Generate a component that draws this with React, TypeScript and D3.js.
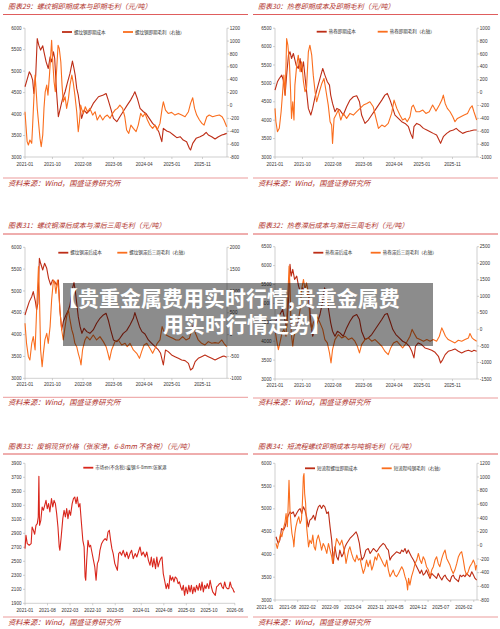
import React from 'react';
import * as d3 from 'd3';

// ---------- colours / fonts ----------
const C_DARK = '#BD2D16';
const C_ORANGE = '#FA6E1E';
const C_TITLE = '#B0302A';
const C_RULE = '#DB4B4B';
const C_AXIS = '#B0B0B0';
const C_TICKTXT = '#333333';
const FONT_CJK = '"Noto Sans CJK SC", "Noto Sans", sans-serif';
const FONT_NUM = '"Liberation Sans", Arial, sans-serif';

// ---------- tick labels ----------
const xTicksA = ['2021-01', '2021-10', '2022-08', '2023-06', '2024-04', '2025-01', '2025-11'];
const xTicksB = ['2021-01', '2021-08', '2022-03', '2022-10', '2023-05', '2024-01', '2024-08', '2025-03', '2025-10', '2026-06'];
const xTicksC = ['2021-01', '2021-08', '2022-02', '2022-09', '2023-04', '2023-11', '2024-05', '2024-12', '2025-07', '2026-02'];

// ---------- data (m = months since 2021-01, v = value) ----------
// 图表29
const p29CostM = [0,0.8,1.4,2.0,2.5,2.9,3.5,4.0,4.5,5.1,5.8,6.2,6.9,7.6,8.2,8.7,9.3,9.7,10.3,10.9,11.4,12.3,13.1,13.8,14.7,15.5,16.0,16.4,16.9,17.4,18.0,18.5,19.3,20.2,21.2,22.3,24.0,25.6,26.5,27.2,28.0,28.9,30.0,31.0,32.4,33.4,34.5,35.4,35.9,36.7,37.6,38.7,39.5,40.6,41.7,42.8,43.7,44.7,45.2,46.3,47.4,48.5,49.6,50.7,51.7,52.8,53.7,54.1,54.8,55.9,57.2,58.3,59.2,59.9,61.0,62.1,63.2,64.3,65.0,65.9];
const p29CostV = [4636,4830,4985,4907,4790,4480,4900,5760,5605,5490,5590,5450,5217,5062,5333,5217,5450,5295,4520,3938,4093,4364,4520,4713,4946,5233,5062,4907,4597,4442,4132,3900,4093,4015,4093,4248,4403,4442,4480,4325,4132,3900,3822,3938,4093,4209,4325,4442,4520,4364,4132,4054,4015,3900,3783,3705,3589,3357,3667,3605,3574,3512,3450,3473,3395,3357,3202,3163,3318,3434,3473,3512,3574,3512,3473,3419,3473,3512,3527,3550];
const p29MarginM = [0,0.3,0.7,1.1,1.6,2.2,2.5,2.9,3.3,3.6,4.0,4.5,4.9,5.3,5.8,6.2,6.6,7.1,7.5,8.0,8.4,8.7,9.0,9.5,9.9,10.3,10.8,11.2,11.7,12.1,12.5,13.1,13.6,14.2,14.7,15.3,15.8,16.3,16.9,17.4,17.8,18.2,18.6,19.1,19.7,20.4,21.2,22.1,22.9,23.6,24.5,25.4,26.1,26.9,27.8,28.6,29.4,30.2,31.0,31.9,32.6,33.2,33.9,34.6,35.4,36.3,37.0,37.8,38.5,39.2,40.0,40.8,41.7,42.5,43.2,44.1,44.8,45.2,45.9,46.8,47.9,49.0,50.1,51.2,52.3,53.4,54.1,54.8,55.4,56.1,57.0,57.8,58.5,59.4,60.2,61.3,62.4,63.5,64.4,65.0,65.9];
const p29MarginV = [-97,-304,-562,-614,-536,-588,-304,110,471,265,-45,-304,-511,-640,-459,-45,213,316,161,471,781,1014,730,368,213,523,936,885,678,316,58,135,-45,110,316,471,342,161,-97,-407,-252,6,-71,-123,-20,-97,-45,-149,-97,-226,-149,-226,-175,-149,-200,-123,-71,-45,6,-45,-175,-381,-433,-304,-356,-407,-304,-123,-175,-123,-226,-304,-356,-304,-381,-278,-45,58,-71,-123,-107,-149,-123,-149,-175,-97,32,120,-45,-149,-226,-278,-304,-175,-149,-175,-159,-149,-175,-226,-330];

// 图表30
const p30CostM = [0,0.8,1.4,2.2,2.7,3.3,3.8,4.4,4.9,5.4,6.0,6.9,7.6,8.2,8.7,9.3,10.1,10.9,11.7,12.3,13.1,13.8,14.7,15.6,16.3,17.1,17.8,18.2,18.8,19.6,20.2,21.2,22.3,23.4,24.5,25.6,26.7,27.6,28.3,29.4,30.5,31.6,32.7,33.8,34.9,35.9,36.7,37.6,38.5,39.2,40.3,41.4,42.5,43.6,44.3,45.0,45.4,46.3,47.4,48.5,49.6,50.7,51.7,52.8,53.6,54.1,55.0,56.1,57.2,58.3,59.2,60.2,61.3,62.6,63.7,65.0,65.9];
const p30CostV = [4818,5044,5134,5225,5089,4682,5225,5767,5858,5677,5813,5496,5406,5677,5315,5587,4953,4320,4140,4320,4637,4863,5134,5406,5225,5044,4953,4682,4456,4230,4320,4275,4140,4365,4546,4637,4664,4501,4140,3913,4004,4140,4275,4411,4546,4682,4727,4546,4320,4140,4049,3959,3913,3823,3642,3506,3823,3913,3868,3778,3733,3687,3642,3597,3461,3371,3552,3642,3705,3733,3778,3705,3642,3687,3705,3733,3733];
const p30MarginM = [0,0.3,0.8,1.4,2.0,2.5,2.9,3.3,3.6,3.8,4.2,4.7,5.1,5.4,5.8,6.2,6.5,7.1,7.6,8.2,8.7,9.3,9.8,10.3,10.9,11.4,12.0,12.5,13.1,13.6,14.5,15.3,16.0,16.7,17.4,18.0,18.5,18.8,19.3,19.9,20.7,21.5,22.3,23.4,24.5,25.6,26.7,27.8,28.9,30.0,31.0,32.1,33.0,33.8,34.9,35.9,37.0,38.1,38.9,39.8,40.8,41.7,42.5,43.2,44.1,44.7,45.2,46.1,47.2,48.3,49.3,50.4,51.5,52.6,53.7,54.5,55.0,55.6,56.3,57.2,58.1,58.8,59.6,60.7,61.8,62.9,63.7,64.4,65.0,65.9];
const p30MarginV = [-245,-452,-607,-555,-297,13,271,-39,426,840,736,478,13,-401,-142,-426,116,426,581,323,478,168,13,65,633,736,581,271,13,-142,13,142,220,13,-194,-452,-504,-788,-401,-349,-271,-426,-323,-401,-323,-349,-297,-245,-194,-168,-142,-220,-401,-555,-504,-530,-478,-323,-116,-245,-349,-426,-401,-452,-375,-220,-194,-297,-297,-271,-323,-297,-194,-287,-194,-116,-39,-168,-245,-297,-375,-452,-401,-375,-349,-323,-245,-204,-297,-426];

// 图表31
const p31CostM = [0,0.5,1.4,2.2,2.7,3.4,3.8,4.2,4.7,5.1,5.8,6.4,7.1,7.7,8.4,9.0,9.7,10.3,10.9,11.4,12.0,12.5,13.4,14.2,14.7,15.4,16.0,16.4,16.9,17.4,18.0,18.6,19.3,20.2,21.2,22.3,23.4,24.5,25.6,26.5,27.2,28.0,28.9,30.0,31.0,32.1,33.2,34.3,35.4,35.9,36.5,37.4,38.2,39.2,40.3,41.4,42.5,43.6,44.3,45.2,45.9,46.8,47.9,49.0,50.1,51.2,52.3,53.4,54.1,54.8,55.6,56.6,57.7,58.8,59.9,61.0,62.1,63.2,64.3,65.0,65.9];
const p31CostV = [4450,4565,4756,4870,4985,4756,4565,4717,5748,5634,5481,5634,5519,5290,5137,5252,5214,5137,5252,4565,4107,4298,4450,4565,4679,5023,5191,5023,4717,4412,4183,4030,4145,4069,4030,4107,4260,4374,4450,4488,4336,4107,3878,3840,3916,4030,4092,4221,4374,4504,4374,4183,4069,4015,3878,3801,3725,3649,3572,3305,3649,3611,3534,3496,3458,3420,3404,3343,3191,3229,3382,3458,3496,3534,3496,3458,3420,3458,3496,3511,3481];
const p31MarginM = [0,0.5,1.1,1.6,2.2,2.7,3.3,3.8,4.4,4.7,5.1,5.6,6.0,6.5,7.1,7.6,8.2,8.7,9.3,9.7,10.1,10.6,11.0,11.4,12.0,12.5,13.1,13.6,14.2,14.7,15.3,15.8,16.3,16.9,17.4,18.0,18.3,18.8,19.6,20.2,21.2,22.3,23.4,24.5,25.6,26.5,27.1,27.6,28.3,29.4,30.5,31.6,32.7,33.4,34.3,35.4,36.5,37.4,38.1,38.9,39.8,40.8,41.7,42.5,43.2,44.1,44.8,45.2,46.1,47.2,48.3,49.3,50.4,51.5,52.6,53.7,54.5,55.0,55.7,56.6,57.7,58.8,59.9,61.0,62.1,63.2,64.3,65.0,65.9];
const p31MarginV = [260,-199,-504,-580,-199,-46,-351,565,1557,946,-351,-733,-428,-122,31,-199,183,794,1252,1176,946,1252,1023,565,107,-122,183,412,565,336,107,-8,-199,-275,-428,-580,-695,-351,-122,-46,-122,-8,-122,-46,-160,-275,-428,-580,-351,-160,-122,-237,-199,-275,-199,-351,-428,-542,-389,-237,-199,-313,-428,-313,-199,-122,183,107,-8,-46,-84,-122,-122,-46,-122,-84,107,221,31,-122,-199,-237,-160,-199,-183,-199,-122,-199,-275];

// 图表32
const p32CostM = [0,0.8,1.6,2.5,3.2,3.8,4.5,4.9,5.3,5.8,6.4,7.1,7.7,8.4,9.0,9.7,10.3,11.0,11.7,12.3,13.0,13.8,14.7,15.6,16.2,16.9,17.5,18.2,18.8,19.6,20.4,21.2,22.3,23.4,24.5,25.6,26.7,27.6,28.3,29.4,30.5,31.6,32.7,33.8,34.9,35.9,36.7,37.6,38.5,39.5,40.6,41.7,42.8,43.9,44.7,45.4,45.9,46.8,47.9,49.0,50.1,51.2,52.3,53.4,54.1,54.8,55.6,56.6,57.7,58.8,59.9,61.0,62.1,63.2,64.3,65.0,65.9];
const p32CostV = [4485,4617,4706,4838,4573,4352,5192,6032,5722,5899,5634,5722,5457,5280,5413,5325,5192,5280,4485,4131,4308,4485,4706,5059,5413,5192,4838,4485,4264,4131,4264,4220,4131,4352,4529,4662,4706,4573,4264,4043,4087,4176,4308,4441,4573,4706,4732,4529,4308,4176,4087,3999,3955,3866,3734,3557,3866,3955,3910,3822,3796,3760,3707,3601,3424,3513,3645,3734,3760,3796,3734,3690,3734,3760,3725,3760,3734];
const p32MarginM = [0,0.5,1.1,1.6,2.3,2.9,3.6,4.1,4.6,4.9,5.3,5.8,6.2,6.9,7.5,8.2,8.7,9.3,9.8,10.3,10.9,11.4,12.0,12.5,13.6,14.7,15.6,16.3,17.1,17.8,18.3,18.8,19.6,20.7,21.8,22.9,24.0,25.1,26.1,26.9,27.6,28.3,29.4,30.5,31.6,32.7,33.8,34.9,35.9,37.0,37.8,38.7,39.8,40.8,41.7,42.5,43.2,44.1,44.8,45.4,46.3,47.4,48.5,49.6,50.7,51.7,52.8,53.7,54.5,55.0,55.7,56.6,57.7,58.8,59.9,61.0,62.1,63.2,63.7,64.4,65.0,65.9];
const p32MarginV = [0,-308,-611,-409,-106,0,-207,803,1914,1308,-106,-510,-207,0,197,601,1207,1510,1207,1409,1106,298,0,197,399,197,0,-308,-409,-712,-1015,-611,-308,-156,-257,-207,-308,-257,-358,-510,-712,-459,-308,-257,-358,-308,-409,-510,-661,-762,-560,-409,-358,-459,-560,-459,-358,-207,0,-106,-257,-308,-358,-308,-358,-308,-358,-207,46,-55,-207,-308,-358,-409,-328,-358,-308,-257,-126,-257,-308,-358];

// 图表33
const p33PriceM = [0,0.3,0.7,1.3,1.9,2.2,2.6,3.0,3.4,3.8,4.1,4.3,4.5,4.9,5.3,5.7,6.1,6.5,6.9,7.3,7.7,8.2,8.6,9.0,9.4,9.8,10.2,10.6,10.8,11.2,11.7,12.1,12.5,12.9,13.3,13.7,14.1,14.6,15.0,15.4,15.8,16.2,16.6,17.0,17.4,17.9,18.3,18.6,18.8,19.1,19.5,19.9,20.3,20.7,21.2,21.6,22.0,22.4,22.8,23.2,23.7,24.3,24.8,25.3,25.7,26.1,26.5,26.9,27.3,27.8,28.2,28.6,29.0,29.4,29.9,30.4,31.0,31.5,32.0,32.5,33.0,33.5,34.1,34.6,35.1,35.6,36.1,36.6,37.2,37.7,38.2,38.7,39.1,39.5,39.9,40.4,40.8,41.2,41.6,42.0,42.4,42.8,43.2,43.7,44.1,44.5,44.9,45.3,45.7,46.1,46.5,47.0,47.4,47.8,48.2,48.6,49.0,49.4,49.8,50.3,50.7,51.1,51.5,51.9,52.3,52.7,53.1,53.6,54.0,54.4,54.8,55.2,55.6,56.0,56.4,56.9,57.3,57.7,58.1,58.5,58.9,59.3,59.8,60.2,60.6,61.0,61.4,61.8,62.2,62.6,63.1,63.5,63.9,64.3,64.7,65.0];
const p33PriceV = [2681,2871,2752,2729,2752,2990,2943,2886,3014,3038,3133,3714,3014,3086,3276,3229,3300,3371,3252,3324,3205,3395,3276,3371,3324,3181,2990,2705,2657,2848,3110,3229,3133,3252,3110,3229,3157,3324,3395,3419,3324,3419,3276,3324,3086,2800,2705,2276,2229,2514,2800,2705,2729,2633,2514,2419,2229,2467,2514,2657,2752,2800,2824,2800,2919,2943,2800,2681,2610,2467,2419,2371,2610,2633,2586,2657,2562,2633,2538,2610,2657,2538,2610,2562,2633,2705,2586,2633,2562,2633,2514,2443,2562,2419,2538,2395,2562,2419,2491,2538,2562,2324,2229,2110,2181,2110,2300,2229,2276,2205,2276,2252,2181,2205,2133,2086,2157,2014,2133,2038,2157,2062,2157,2038,2133,2062,2157,2086,2181,2086,2205,2062,2157,2110,2181,2110,2229,2133,2062,2038,2014,2133,2157,2181,2190,2133,2110,2205,2133,2110,2110,2205,2133,2110,2062,2062];

// 图表34
const p34CostM = [0.3,1.0,1.5,2.0,2.6,3.1,3.6,4.1,4.6,5.1,5.6,6.1,6.6,7.2,7.7,8.2,8.7,9.2,9.7,10.2,10.7,11.3,11.8,12.3,12.8,13.3,13.8,14.3,14.8,15.3,15.9,16.4,16.9,17.4,17.7,17.9,18.4,18.9,19.4,19.9,20.5,21.0,21.5,22.0,23.0,24.0,24.9,25.3,25.9,26.3,26.7,27.3,27.9,28.6,29.2,30.2,31.2,32.2,33.2,33.8,34.3,34.8,35.3,35.8,36.3,37.3,38.4,38.9,39.4,39.9,40.4,40.9,41.4,41.9,42.5,43.0,43.5,44.0,44.5,45.0,45.5,46.0,46.5,47.1,47.6,48.1,48.6,49.1,49.6,50.1,50.6,51.2,51.7,52.2,52.7,53.2,53.7,54.2,54.7,55.2,55.8,56.3,56.8,57.3,57.8,58.3,58.8,59.3,59.8,60.4,60.9,61.4,61.9];
const p34CostV = [4387,4241,4314,4569,4533,4606,4752,4861,4934,4898,4934,4825,4898,4971,5007,4898,5044,4971,4825,4606,4752,4788,4861,4752,4934,5044,5080,5007,5080,5044,4898,4934,4606,4314,4022,3803,4168,3949,3876,4095,3949,4022,4168,4241,4350,4423,4496,4423,4241,4022,3876,3949,4095,4131,4022,4131,4058,4168,4241,4204,4131,4095,3876,3949,3985,4058,4022,4095,4058,4131,4022,4095,4022,3949,3876,3803,3730,3657,3584,3657,3547,3584,3657,3547,3474,3584,3547,3511,3474,3584,3511,3438,3511,3547,3474,3438,3401,3511,3547,3474,3438,3401,3547,3511,3547,3511,3584,3547,3511,3620,3547,3474,3438];
const p34MarginM = [0.3,0.7,1.3,1.7,2.1,2.6,3.1,3.4,3.8,4.1,4.3,4.6,4.9,5.2,5.6,5.8,6.1,6.4,6.9,7.3,7.7,8.1,8.4,8.7,8.9,9.1,9.4,9.7,10.0,10.3,10.7,11.2,11.6,12.0,12.4,12.8,13.3,13.8,14.3,14.8,15.3,15.9,16.4,16.9,17.4,17.7,18.1,18.5,18.9,19.4,19.9,20.5,21.0,21.5,21.8,22.2,22.6,23.0,23.5,24.0,24.6,25.1,25.6,26.1,26.6,27.1,27.6,28.1,28.6,29.2,29.7,30.2,30.7,31.2,31.7,32.2,32.7,33.2,33.8,34.3,34.8,35.3,35.8,36.3,36.8,37.3,37.9,38.4,38.9,39.4,39.9,40.4,40.7,41.0,41.4,41.9,42.5,43.0,43.5,44.0,44.5,45.0,45.5,46.0,46.5,47.1,47.6,48.1,48.6,49.1,49.6,50.1,50.6,51.2,51.7,52.2,52.7,53.2,53.7,54.2,54.7,55.2,55.8,56.3,56.8,57.3,57.8,58.3,58.8,59.3,59.8,60.4,60.9,61.3,61.6,61.9];
const p34MarginV = [27,-46,76,173,125,246,344,465,271,660,952,514,319,173,76,-22,173,271,368,417,319,368,611,1000,1049,757,611,271,125,-22,76,27,149,-22,-70,76,149,52,-70,27,-22,-119,27,-70,-167,-265,-119,-22,100,52,3,76,-22,-143,-265,-167,-70,-22,-119,-192,-240,-143,-216,-192,-313,-411,-338,-216,-313,-216,-362,-289,-167,-216,-119,-167,-216,-265,-313,-216,-362,-459,-411,-362,-435,-459,-411,-362,-313,-362,-459,-532,-654,-484,-581,-459,-362,-265,-216,-119,-216,-265,-167,-216,-313,-362,-459,-362,-313,-216,-167,-265,-313,-192,-119,-70,-192,-240,-289,-362,-411,-362,-265,-167,-119,-94,-216,-362,-435,-386,-313,-265,-216,-265,-362,-289];

// ---------- helpers ----------
const START = new Date(2021, 0, 1);
const toDate = (m: number) => new Date(START.getTime() + m * 30.4375 * 864e5);
const parseYM = (s: string) => {
  const [y, mo] = s.split('-').map(Number);
  return new Date(y, mo - 1, 1);
};

type Series = { m: number[]; v: number[]; color: string; right: boolean };
type Legend = { text: string; color: string; x: number };
type Cfg = {
  ox: number; title: string; titleY: number; ruleY: number;
  top: number; bottom: number; left: number; right: number;
  months: number; xTicks: string[]; xLabelY: number; xLabelDx: number;
  lDomain: [number, number]; lStep: number;
  rDomain?: [number, number]; rStep?: number;
  legend: Legend[]; legendY: number; srcRuleY: number; srcY: number;
  series: Series[];
};

const panels: Cfg[] = [
  {
    ox: 0, title: '图表29：螺纹钢即期成本与即期毛利（元/吨）', titleY: 8.6, ruleY: 14.5,
    top: 28.2, bottom: 157, left: 25, right: 227, months: 66, xTicks: xTicksA, xLabelY: 165.6, xLabelDx: 0,
    lDomain: [3000, 6000], lStep: 500, rDomain: [-800, 1200], rStep: 200,
    legend: [{ text: '螺纹钢即期成本', color: C_DARK, x: 62 }, { text: '螺纹钢即期毛利（右轴）', color: C_ORANGE, x: 123 }],
    legendY: 32, srcRuleY: 178, srcY: 185.7,
    series: [
      { m: p29CostM, v: p29CostV, color: C_DARK, right: false },
      { m: p29MarginM, v: p29MarginV, color: C_ORANGE, right: true },
    ],
  },
  {
    ox: 250, title: '图表30：热卷即期成本及即期毛利（元/吨）', titleY: 8.6, ruleY: 14.5,
    top: 28.2, bottom: 157, left: 275, right: 477, months: 66, xTicks: xTicksA, xLabelY: 165.6, xLabelDx: 0,
    lDomain: [3000, 6500], lStep: 500, rDomain: [-1000, 1000], rStep: 200,
    legend: [{ text: '热卷即期成本', color: C_DARK, x: 316.7 }, { text: '热卷即期毛利（右轴）', color: C_ORANGE, x: 377.7 }],
    legendY: 31.7, srcRuleY: 178, srcY: 185.7,
    series: [
      { m: p30CostM, v: p30CostV, color: C_DARK, right: false },
      { m: p30MarginM, v: p30MarginV, color: C_ORANGE, right: true },
    ],
  },
  {
    ox: 0, title: '图表31：螺纹钢滞后成本与滞后三周毛利（元/吨）', titleY: 227.5, ruleY: 234,
    top: 247.3, bottom: 378.3, left: 25, right: 227, months: 66, xTicks: xTicksA, xLabelY: 386, xLabelDx: 0,
    lDomain: [3000, 6000], lStep: 500, rDomain: [-1000, 2000], rStep: 500,
    legend: [{ text: '螺纹钢滞后成本', color: C_DARK, x: 58.3 }, { text: '螺纹钢滞后三周毛利（右轴）', color: C_ORANGE, x: 117.3 }],
    legendY: 252.7, srcRuleY: 397.3, srcY: 405.2,
    series: [
      { m: p31CostM, v: p31CostV, color: C_DARK, right: false },
      { m: p31MarginM, v: p31MarginV, color: C_ORANGE, right: true },
    ],
  },
  {
    ox: 250, title: '图表32：热卷滞后成本与滞后三周毛利（元/吨）', titleY: 227.5, ruleY: 234,
    top: 246.7, bottom: 379, left: 275, right: 477, months: 66, xTicks: xTicksA, xLabelY: 386.6, xLabelDx: 0,
    lDomain: [3000, 6500], lStep: 500, rDomain: [-1500, 2500], rStep: 500,
    legend: [{ text: '热卷滞后成本', color: C_DARK, x: 313.3 }, { text: '热卷滞后三周毛利（右轴）', color: C_ORANGE, x: 370.7 }],
    legendY: 252.7, srcRuleY: 398, srcY: 405.2,
    series: [
      { m: p32CostM, v: p32CostV, color: C_DARK, right: false },
      { m: p32MarginM, v: p32MarginV, color: C_ORANGE, right: true },
    ],
  },
  {
    ox: 0, title: '图表33：废钢现货价格（张家港，6-8mm 不含税）（元/吨）', titleY: 448.5, ruleY: 454,
    top: 463.3, bottom: 603.3, left: 25, right: 235, months: 65, xTicks: xTicksB, xLabelY: 612.3, xLabelDx: 0,
    lDomain: [1900, 3900], lStep: 200,
    legend: [{ text: '市场价(不含税):废钢:6-8mm:张家港', color: '#D9261C', x: 83.3 }],
    legendY: 467.7, srcRuleY: 617, srcY: 624.8,
    series: [{ m: p33PriceM, v: p33PriceV, color: '#D9261C', right: false }],
  },
  {
    ox: 250, title: '图表34：短流程螺纹即期成本与吨钢毛利（元/吨）', titleY: 448.5, ruleY: 454,
    top: 463.3, bottom: 600, left: 275, right: 477, months: 62, xTicks: xTicksC, xLabelY: 609, xLabelDx: -10,
    lDomain: [3000, 6000], lStep: 500, rDomain: [-800, 1200], rStep: 200,
    legend: [{ text: '短流程螺纹即期成本', color: C_DARK, x: 305 }, { text: '短流程吨钢毛利（右轴）', color: C_ORANGE, x: 381.7 }],
    legendY: 468.3, srcRuleY: 617, srcY: 624.8,
    series: [
      { m: p34CostM, v: p34CostV, color: C_DARK, right: false },
      { m: p34MarginM, v: p34MarginV, color: C_ORANGE, right: true },
    ],
  },
];

function Panel({ c }: { c: Cfg }) {
  const x = d3.scaleTime().domain([START, toDate(c.months)]).range([c.left, c.right]);
  const yL = d3.scaleLinear().domain(c.lDomain).range([c.bottom, c.top]);
  const yR = c.rDomain ? d3.scaleLinear().domain(c.rDomain).range([c.bottom, c.top]) : null;
  const lTicks = d3.range(c.lDomain[0], c.lDomain[1] + 1, c.lStep);
  const rTicks = c.rDomain ? d3.range(c.rDomain[0], c.rDomain[1] + 1, c.rStep as number) : [];

  const paths = c.series.map((s) => {
    const ys = s.right && yR ? yR : yL;
    const pts = d3.zip(s.m, s.v) as [number, number][];
    const gen = d3
      .line<[number, number]>()
      .x((d) => x(toDate(d[0])))
      .y((d) => ys(d[1]));
    return { d: gen(pts) || '', color: s.color };
  });

  return (
    <g>
      <text x={c.ox + 8} y={c.titleY} fontFamily={FONT_CJK} fontSize={7} fontStyle="italic" fill={C_TITLE}>
        {c.title}
      </text>
      <line x1={c.ox + 3} x2={c.ox + 248} y1={c.ruleY} y2={c.ruleY} stroke={C_RULE} strokeWidth={0.9} />

      {/* axes */}
      <line x1={c.left} x2={c.left} y1={c.top} y2={c.bottom} stroke={C_AXIS} strokeWidth={0.6} />
      <line x1={c.left} x2={c.right} y1={c.bottom} y2={c.bottom} stroke={C_AXIS} strokeWidth={0.6} />
      {yR && <line x1={c.right} x2={c.right} y1={c.top} y2={c.bottom} stroke={C_AXIS} strokeWidth={0.6} />}

      {lTicks.map((t) => (
        <g key={'l' + t}>
          <line x1={c.left - 2} x2={c.left} y1={yL(t)} y2={yL(t)} stroke={C_AXIS} strokeWidth={0.6} />
          <text x={c.left - 3.5} y={yL(t)} dy="0.35em" textAnchor="end" fontFamily={FONT_NUM} fontSize={4.6} fill={C_TICKTXT}>
            {t}
          </text>
        </g>
      ))}
      {yR &&
        rTicks.map((t) => (
          <g key={'r' + t}>
            <line x1={c.right} x2={c.right + 2} y1={yR(t)} y2={yR(t)} stroke={C_AXIS} strokeWidth={0.6} />
            <text x={c.right + 2.8} y={yR(t)} dy="0.35em" textAnchor="start" fontFamily={FONT_NUM} fontSize={4.6} fill={C_TICKTXT}>
              {t}
            </text>
          </g>
        ))}
      {c.xTicks.map((t) => {
        const px = x(parseYM(t));
        return (
          <g key={'x' + t}>
            <line x1={px} x2={px} y1={c.bottom} y2={c.bottom + 2} stroke={C_AXIS} strokeWidth={0.6} />
            <text x={px + c.xLabelDx} y={c.xLabelY} textAnchor="middle" fontFamily={FONT_NUM} fontSize={4.6} fill={C_TICKTXT}>
              {t}
            </text>
          </g>
        );
      })}

      {/* series */}
      {paths.map((p, i) => (
        <path key={i} d={p.d} fill="none" stroke={p.color} strokeWidth={1.1} strokeLinejoin="round" />
      ))}

      {/* legend */}
      {c.legend.map((l) => (
        <g key={l.text}>
          <line x1={l.x} x2={l.x + 10} y1={c.legendY} y2={c.legendY} stroke={l.color} strokeWidth={1.8} />
          <text x={l.x + 12} y={c.legendY} dy="0.35em" fontFamily={FONT_CJK} fontSize={4.5} fill="#333">
            {l.text}
          </text>
        </g>
      ))}

      {/* source */}
      <line x1={c.ox + 3} x2={c.ox + 248} y1={c.srcRuleY} y2={c.srcRuleY} stroke={C_RULE} strokeWidth={0.7} strokeOpacity={0.8} />
      <text x={c.ox + 8} y={c.srcY} fontFamily={FONT_CJK} fontSize={7.3} fontStyle="italic" fill={C_TITLE}>
        资料来源：Wind，国盛证券研究所
      </text>
    </g>
  );
}

export default function App() {
  return (
    <div style={{ position: 'absolute', left: 0, top: 0, width: 500, height: 629, background: '#fff' }}>
      <svg width={500} height={629} viewBox="0 0 500 629" style={{ display: 'block' }}>
        <rect x={0} y={0} width={500} height={629} fill="#fff" />
        {panels.map((c, i) => (
          <Panel key={i} c={c} />
        ))}
        <rect x={63} y={283} width={370} height={63} fill="#000" fillOpacity={0.45} />
        <text x={57} y={305.7} fontFamily={FONT_CJK} fontSize={21} fontWeight="bold" fill="#fff">
          【贵重金属费用实时行情,贵重金属费
        </text>
        <text x={163} y={332.4} fontFamily={FONT_CJK} fontSize={21} fontWeight="bold" fill="#fff">
          用实时行情走势】
        </text>
      </svg>
    </div>
  );
}
